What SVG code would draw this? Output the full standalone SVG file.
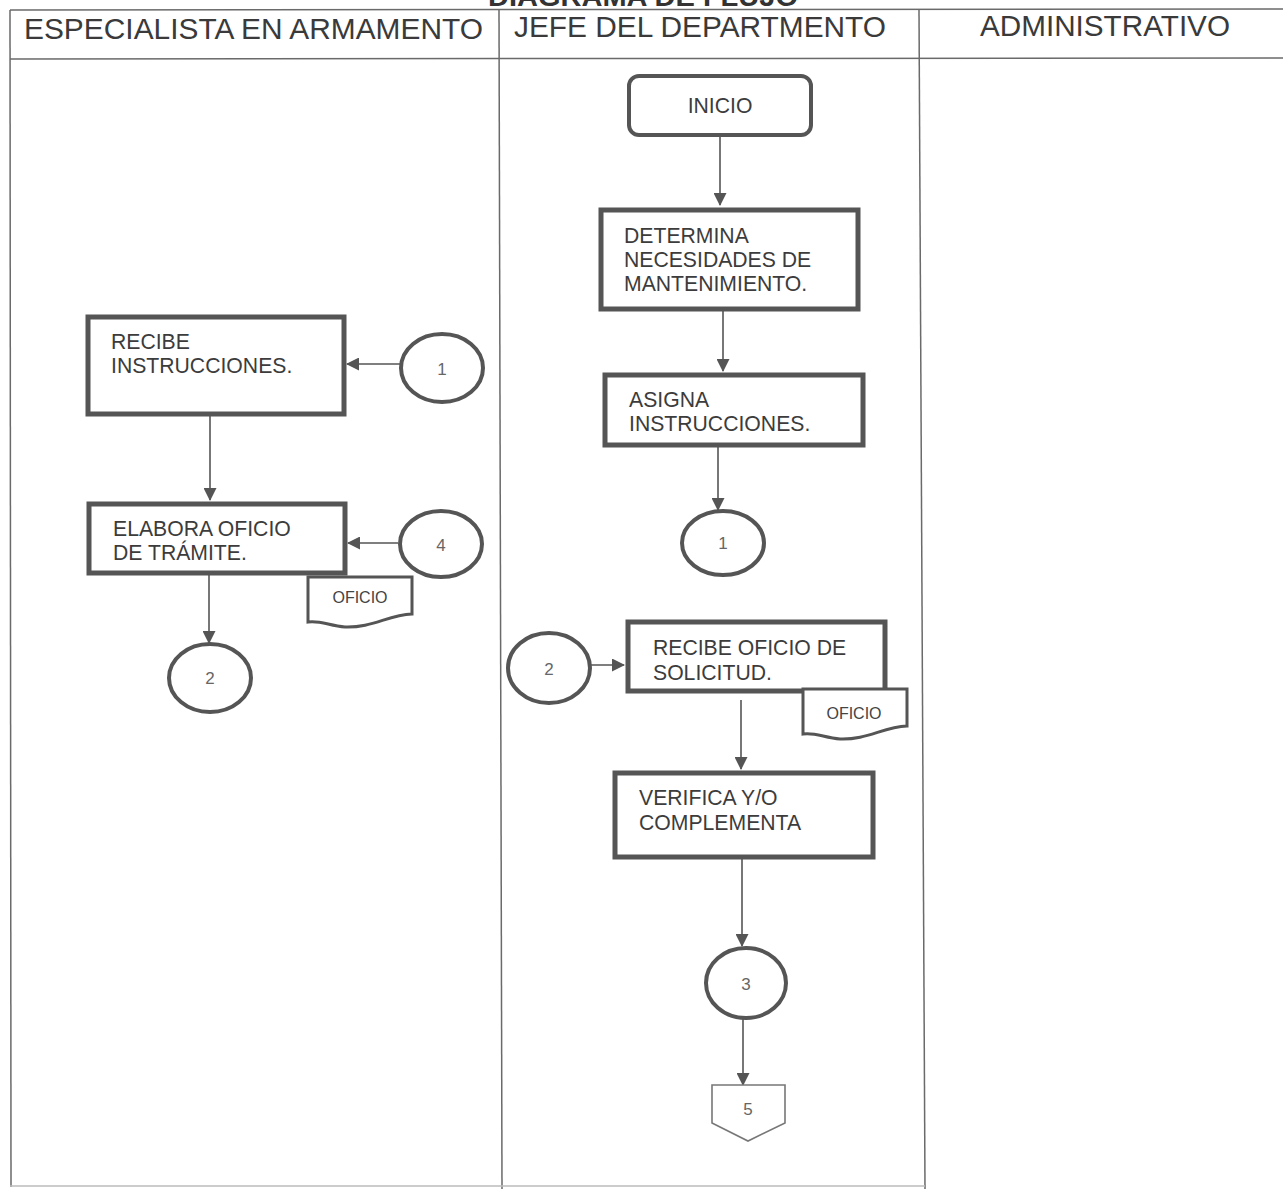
<svg xmlns="http://www.w3.org/2000/svg" width="1283" height="1189" viewBox="0 0 1283 1189">
<style>
.grid{stroke:#6a6a6a;stroke-width:1.5;fill:none}
.hdr{font-family:"Liberation Sans",Arial,sans-serif;font-size:29px;fill:#3a3a3a}
.box{fill:#fff;stroke:#555;stroke-width:5}
.term{fill:#fff;stroke:#555;stroke-width:4}
.circ{fill:#fff;stroke:#555;stroke-width:4}
.doc{fill:#fff;stroke:#555;stroke-width:3}
.t{font-family:"Liberation Sans",Arial,sans-serif;font-size:21.2px;fill:#3c3c3c}
.n{font-family:"Liberation Sans",Arial,sans-serif;font-size:17px;fill:#666;text-anchor:middle}
.s{font-family:"Liberation Sans",Arial,sans-serif;font-size:16px;fill:#444;text-anchor:middle}
.c{stroke:#555;stroke-width:1.6;fill:none;marker-end:url(#ah)}
</style>
<defs>
<marker id="ah" markerWidth="13" markerHeight="13" refX="12" refY="6.5" orient="auto" markerUnits="userSpaceOnUse">
<path d="M0,0 L13,6.5 L0,13 Z" fill="#555"/>
</marker>
</defs>
<rect width="1283" height="1189" fill="#fff"/>
<g id="frame">
<text x="643" y="6" text-anchor="middle" font-family="Liberation Sans,Arial,sans-serif" font-weight="bold" font-size="28" fill="#333" textLength="310" lengthAdjust="spacingAndGlyphs">DIAGRAMA DE FLUJO</text>
<line class="grid" x1="10" y1="10" x2="1283" y2="9"/>
<line class="grid" x1="10" y1="59" x2="1283" y2="58"/>
<line class="grid" x1="10" y1="10" x2="11" y2="1187"/>
<line class="grid" x1="499" y1="10" x2="502" y2="1189"/>
<line class="grid" x1="919" y1="10" x2="925" y2="1189"/>
<line x1="10" y1="1186" x2="925" y2="1186" stroke="#bbb" stroke-width="1.5"/>
<text class="hdr" x="24" y="39" textLength="459" lengthAdjust="spacingAndGlyphs">ESPECIALISTA EN ARMAMENTO</text>
<text class="hdr" x="514" y="37" textLength="372" lengthAdjust="spacingAndGlyphs">JEFE DEL DEPARTMENTO</text>
<text class="hdr" x="980" y="36" textLength="250" lengthAdjust="spacingAndGlyphs">ADMINISTRATIVO</text>
</g>
<g id="connectors">
<line class="c" x1="720" y1="136" x2="720" y2="205"/>
<line class="c" x1="723" y1="310" x2="723" y2="371"/>
<line class="c" x1="718" y1="446" x2="718" y2="510"/>
<line class="c" x1="400" y1="364" x2="347" y2="364"/>
<line class="c" x1="210" y1="415" x2="210" y2="500"/>
<line class="c" x1="398" y1="543" x2="348" y2="543"/>
<line class="c" x1="209" y1="574" x2="209" y2="643"/>
<line class="c" x1="591" y1="665" x2="624" y2="665"/>
<line class="c" x1="741" y1="700" x2="741" y2="769"/>
<line class="c" x1="742" y1="858" x2="742" y2="946"/>
<line class="c" x1="743" y1="1019" x2="743" y2="1085"/>
</g>
<g id="inicio">
<rect class="term" x="629" y="76" width="182" height="59" rx="10"/>
<text class="t" x="720" y="113" text-anchor="middle" font-size="23.5">INICIO</text>
</g>
<g id="determina">
<rect class="box" x="601" y="210" width="257" height="99"/>
<text class="t" x="624" y="243">DETERMINA</text>
<text class="t" x="624" y="267">NECESIDADES DE</text>
<text class="t" x="624" y="291">MANTENIMIENTO.</text>
</g>
<g id="asigna">
<rect class="box" x="605" y="375" width="258" height="70"/>
<text class="t" x="629" y="407">ASIGNA</text>
<text class="t" x="629" y="431">INSTRUCCIONES.</text>
</g>
<g id="con1b">
<ellipse class="circ" cx="723" cy="543" rx="41" ry="32"/>
<text class="n" x="723" y="549">1</text>
</g>
<g id="recibe">
<rect class="box" x="88" y="317" width="256" height="97"/>
<text class="t" x="111" y="349">RECIBE</text>
<text class="t" x="111" y="373">INSTRUCCIONES.</text>
</g>
<g id="con1a">
<ellipse class="circ" cx="442" cy="368" rx="41" ry="34"/>
<text class="n" x="442" y="375">1</text>
</g>
<g id="elabora">
<rect class="box" x="89" y="504" width="256" height="69"/>
<text class="t" x="113" y="536">ELABORA OFICIO</text>
<text class="t" x="113" y="560">DE TRÁMITE.</text>
</g>
<g id="con4">
<ellipse class="circ" cx="441" cy="544" rx="41" ry="33"/>
<text class="n" x="441" y="551">4</text>
</g>
<g id="oficio1">
<path class="doc" d="M308,577 H412 V614 C388,615 372,628 345,627 C330,626 320,620 308,622 Z"/>
<text class="s" x="360" y="603">OFICIO</text>
</g>
<g id="con2a">
<ellipse class="circ" cx="210" cy="678" rx="41" ry="34"/>
<text class="n" x="210" y="684">2</text>
</g>
<g id="con2b">
<ellipse class="circ" cx="549" cy="668" rx="41" ry="35"/>
<text class="n" x="549" y="675">2</text>
</g>
<g id="recibeoficio">
<rect class="box" x="628" y="622" width="257" height="69"/>
<text class="t" x="653" y="655">RECIBE OFICIO DE</text>
<text class="t" x="653" y="680">SOLICITUD.</text>
</g>
<g id="oficio2">
<path class="doc" d="M803,689 H907 V726 C883,727 867,740 840,739 C825,738 815,732 803,734 Z"/>
<text class="s" x="854" y="719">OFICIO</text>
</g>
<g id="verifica">
<rect class="box" x="615" y="773" width="258" height="84"/>
<text class="t" x="639" y="805">VERIFICA Y/O</text>
<text class="t" x="639" y="830">COMPLEMENTA</text>
</g>
<g id="con3">
<ellipse class="circ" cx="746" cy="983" rx="40" ry="35" stroke-width="5"/>
<text class="n" x="746" y="990">3</text>
</g>
<g id="offpage5">
<path d="M712,1085 H785 V1123 L748,1141 L712,1123 Z" fill="#fff" stroke="#777" stroke-width="1.6"/>
<text class="n" x="748" y="1115">5</text>
</g>
</svg>
